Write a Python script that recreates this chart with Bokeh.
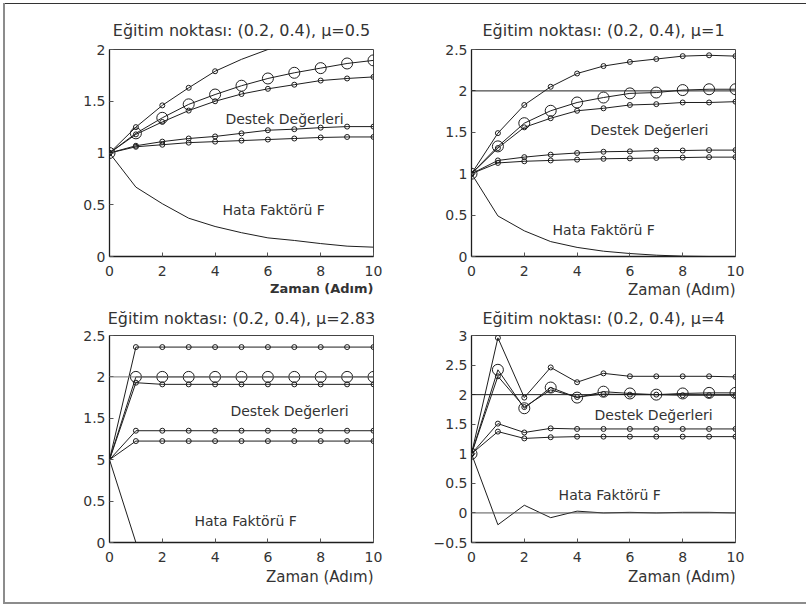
from bokeh.plotting import figure
from bokeh.layouts import column, row
from bokeh.models import Span, Label, Title, FixedTicker
from bokeh.embed import file_html
from bokeh.resources import INLINE

# time steps
steps = [0, 1, 2, 3, 4, 5, 6, 7, 8, 9, 10]

# mu = 0.5
mu05_top = [1.0, 1.25, 1.46, 1.63, 1.79, 1.905, 2.0, 2.07, 2.12, 2.16, 2.19]
mu05_sup = [1.0, 1.19, 1.34, 1.47, 1.565, 1.65, 1.72, 1.775, 1.82, 1.865, 1.895]
mu05_mid = [1.0, 1.18, 1.30, 1.41, 1.50, 1.57, 1.62, 1.66, 1.70, 1.72, 1.735]
mu05_low1 = [1.0, 1.07, 1.11, 1.14, 1.16, 1.19, 1.22, 1.23, 1.245, 1.255, 1.255]
mu05_low2 = [1.0, 1.06, 1.08, 1.10, 1.11, 1.12, 1.13, 1.14, 1.15, 1.155, 1.155]
mu05_err = [1.0, 0.67, 0.51, 0.37, 0.29, 0.23, 0.18, 0.155, 0.125, 0.10, 0.09]

# mu = 1
mu1_top = [1.0, 1.49, 1.83, 2.05, 2.21, 2.30, 2.35, 2.385, 2.42, 2.43, 2.42]
mu1_sup = [1.0, 1.33, 1.61, 1.76, 1.86, 1.92, 1.97, 1.98, 2.01, 2.02, 2.02]
mu1_mid = [1.0, 1.31, 1.56, 1.67, 1.76, 1.79, 1.83, 1.84, 1.86, 1.86, 1.87]
mu1_low1 = [1.0, 1.16, 1.20, 1.23, 1.25, 1.265, 1.27, 1.28, 1.28, 1.285, 1.285]
mu1_low2 = [1.0, 1.13, 1.15, 1.16, 1.17, 1.18, 1.185, 1.19, 1.195, 1.20, 1.20]
mu1_err = [1.0, 0.49, 0.31, 0.18, 0.11, 0.064, 0.036, 0.016, 0.004, 0.0, 0.0]

# mu = 2.83
mu283_top = [1.0, 2.36, 2.36, 2.36, 2.36, 2.36, 2.36, 2.36, 2.36, 2.36, 2.36]
mu283_sup = [1.0, 2.0, 2.0, 2.0, 2.0, 2.0, 2.0, 2.0, 2.0, 2.0, 2.0]
mu283_mid = [1.0, 1.93, 1.91, 1.91, 1.91, 1.91, 1.91, 1.91, 1.91, 1.91, 1.91]
mu283_low1 = [1.0, 1.35, 1.35, 1.35, 1.35, 1.35, 1.35, 1.35, 1.35, 1.35, 1.35]
mu283_low2 = [1.0, 1.225, 1.225, 1.225, 1.225, 1.225, 1.225, 1.225, 1.225, 1.225, 1.225]
mu283_err = [1.0, 0.0, 0.0, 0.0, 0.0, 0.0, 0.0, 0.0, 0.0, 0.0, 0.0]

# mu = 4
mu4_top = [1.0, 2.96, 1.95, 2.46, 2.21, 2.36, 2.31, 2.31, 2.31, 2.31, 2.30]
mu4_sup = [1.0, 2.42, 1.77, 2.12, 1.95, 2.05, 2.02, 2.0, 2.02, 2.03, 2.03]
mu4_mid = [1.0, 2.31, 1.79, 2.08, 1.96, 2.01, 2.0, 2.0, 1.99, 1.99, 1.99]
mu4_low1 = [1.0, 1.51, 1.36, 1.43, 1.42, 1.42, 1.42, 1.42, 1.42, 1.42, 1.42]
mu4_low2 = [1.0, 1.375, 1.26, 1.28, 1.29, 1.29, 1.29, 1.29, 1.29, 1.29, 1.29]
mu4_err = [1.0, -0.2, 0.13, -0.08, 0.03, 0.0, 0.01, 0.0, 0.01, 0.01, 0.0]

x_ticks = [0, 2, 4, 6, 8, 10]

titles = [
    "Eğitim noktası: (0.2, 0.4), μ=0.5",
    "Eğitim noktası: (0.2, 0.4), μ=1",
    "Eğitim noktası: (0.2, 0.4), μ=2.83",
    "Eğitim noktası: (0.2, 0.4), μ=4",
]
x_label = "Zaman (Adım)"
support_label = "Destek Değerleri"
error_label = "Hata Faktörü F"

FONT = "DejaVu Sans"
INK = "#1e1e1e"
TEXT = "#333333"


def make_panel(title, top, sup, mid, low1, low2, err, y_range, y_ticks,
               borders, label_pos, spans, title_gap, xlabel_gap,
               label_overrides=None, mark_from=0, top_marks=11,
               bold_xlabel=False):
    left, right, top_b, bottom = borders
    p = figure(frame_width=264, frame_height=207,
               min_border_left=left, min_border_right=right,
               min_border_top=top_b, min_border_bottom=bottom,
               x_range=(0, 10), y_range=y_range,
               output_backend="svg", toolbar_location=None)
    p.background_fill_color = "white"
    p.border_fill_alpha = 0
    p.outline_line_color = "#444444"
    p.outline_line_width = 1
    p.grid.visible = False

    p.title.text = title
    p.title.align = "center"
    p.title.text_font = FONT
    p.title.text_font_size = "16px"
    p.title.text_font_style = "normal"
    p.title.text_color = TEXT
    p.title.standoff = title_gap

    p.xaxis.ticker = FixedTicker(ticks=x_ticks)
    p.yaxis.ticker = FixedTicker(ticks=y_ticks)
    if label_overrides:
        p.yaxis.major_label_overrides = label_overrides
    for ax in (p.xaxis[0], p.yaxis[0]):
        ax.major_tick_in = 4
        ax.major_tick_out = 0
        ax.major_tick_line_color = "#555555"
        ax.minor_tick_line_color = None
        ax.axis_line_color = INK
        ax.axis_line_width = 1.3
        ax.major_label_text_font = FONT
        ax.major_label_text_font_size = "14px"
        ax.major_label_text_color = TEXT
    p.xaxis.major_label_standoff = 9
    p.yaxis.major_label_standoff = 4

    # axis caption, right-aligned under the end of the time axis
    p.add_layout(Title(text=x_label, align="right", text_font=FONT,
                       text_font_size="13px" if bold_xlabel else "15px",
                       text_font_style="bold" if bold_xlabel else "normal",
                       text_color=TEXT, standoff=xlabel_gap), "below")

    for loc, color in spans:
        p.add_layout(Span(location=loc, dimension="width",
                          line_color=color, line_width=1))

    curves = [top, sup, mid, low1, low2]
    for ys in curves + [err]:
        p.line(steps, ys, line_color=INK, line_width=1)

    p.scatter(steps[mark_from:top_marks], top[mark_from:top_marks], size=5,
              marker="circle", fill_color=None, line_color=INK, line_width=1)
    for ys in (mid, low1, low2):
        p.scatter(steps[mark_from:], ys[mark_from:], size=5, marker="circle",
                  fill_color=None, line_color=INK, line_width=1)
    p.scatter(steps[mark_from:], sup[mark_from:], size=11, marker="circle",
              fill_color=None, line_color=INK, line_width=1)

    (sx, sy), (ex, ey) = label_pos
    p.add_layout(Label(x=sx, y=sy, text=support_label, text_font=FONT,
                       text_font_size="14px", text_color=TEXT,
                       text_baseline="middle"))
    p.add_layout(Label(x=ex, y=ey, text=error_label, text_font=FONT,
                       text_font_size="14px", text_color=TEXT,
                       text_baseline="middle"))
    return p


p1 = make_panel(titles[0], mu05_top, mu05_sup, mu05_mid, mu05_low1, mu05_low2,
                mu05_err, (0, 2), [0, 0.5, 1, 1.5, 2], (109, 27, 49, 42),
                ((4.39, 1.333), (4.28, 0.454)), [], 20, 0,
                top_marks=5, bold_xlabel=True)
p2 = make_panel(titles[1], mu1_top, mu1_sup, mu1_mid, mu1_low1, mu1_low2,
                mu1_err, (0, 2.5), [0, 0.5, 1, 1.5, 2, 2.5], (71, 71, 49, 42),
                ((4.5, 1.53), (3.07, 0.32)), [(2, INK)], 20, 0)
p3 = make_panel(titles[2], mu283_top, mu283_sup, mu283_mid, mu283_low1,
                mu283_low2, mu283_err, (0, 2.5), [0, 0.5, 1, 1.5, 2, 2.5],
                (109, 27, 35, 62), ((4.58, 1.59), (3.22, 0.257)),
                [(2, "#777777")], 16, 3, label_overrides={1: "5"},
                mark_from=1)
p4 = make_panel(titles[3], mu4_top, mu4_sup, mu4_mid, mu4_low1, mu4_low2,
                mu4_err, (-0.5, 3), [-0.5, 0, 0.5, 1, 1.5, 2, 2.5, 3],
                (71, 71, 35, 62), ((4.66, 1.66), (3.3, 0.30)),
                [(2, INK), (0, "#555555")], 16, 3)

# page frame: grey left/bottom rules and a dark top rule, drawn as background
frame_css = {
    "background-color": "white",
    "background-image": ("linear-gradient(#8c8c8c, #8c8c8c), "
                         "linear-gradient(#333333, #333333), "
                         "linear-gradient(#8c8c8c, #8c8c8c)"),
    "background-size": "2px 601px, 803px 1px, 803px 2px",
    "background-position": "3px 3px, 3px 3px, 3px 602px",
    "background-repeat": "no-repeat",
}

layout = column(row(p1, p2), row(p3, p4), styles=frame_css)

open("out.html", "w").write(file_html(layout, INLINE))
